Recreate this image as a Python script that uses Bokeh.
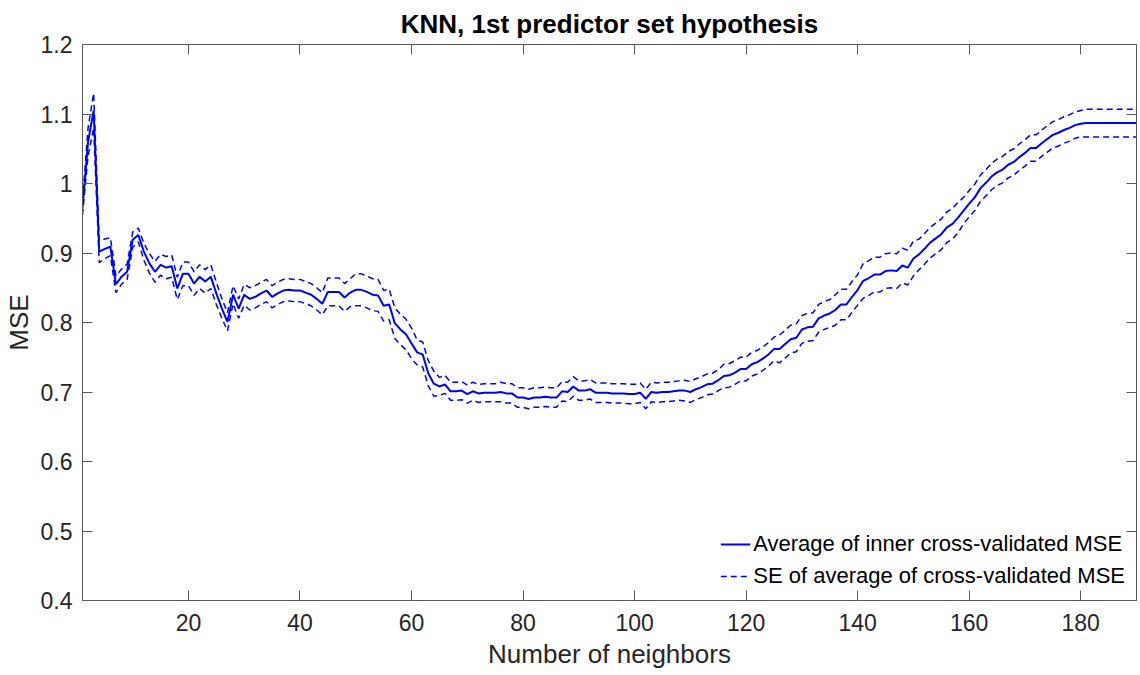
from bokeh.plotting import figure
from bokeh.models import LinearAxis, FixedTicker, CustomJSTickFormatter, Range1d, Legend, LegendItem
from bokeh.embed import file_html
from bokeh.resources import INLINE

# ---- data ----
neighbors = list(range(1, 191))

mean_mse = [
    0.965, 1.060, 1.105, 0.902, 0.906, 0.909, 0.855, 0.866, 0.873, 0.919,
    0.926, 0.902, 0.885, 0.873, 0.883, 0.879, 0.881, 0.849, 0.870, 0.870,
    0.856, 0.866, 0.859, 0.866, 0.842, 0.820, 0.801, 0.840, 0.820, 0.840,
    0.834, 0.837, 0.842, 0.846, 0.837, 0.842, 0.846, 0.847, 0.846, 0.846,
    0.843, 0.840, 0.834, 0.827, 0.844, 0.844, 0.844, 0.836, 0.843, 0.847,
    0.847, 0.844, 0.840, 0.839, 0.824, 0.826, 0.799, 0.790, 0.783, 0.770,
    0.757, 0.754, 0.727, 0.712, 0.708, 0.711, 0.701, 0.701, 0.702, 0.697,
    0.701, 0.698, 0.699, 0.699, 0.699, 0.700, 0.698, 0.698, 0.692, 0.692,
    0.690, 0.692, 0.692, 0.693, 0.692, 0.692, 0.701, 0.700, 0.708, 0.702,
    0.702, 0.704, 0.699, 0.699, 0.699, 0.698, 0.698, 0.698, 0.697, 0.697,
    0.699, 0.690, 0.700, 0.699, 0.700, 0.700, 0.701, 0.702, 0.702, 0.700,
    0.704, 0.707, 0.711, 0.712, 0.717, 0.723, 0.724, 0.728, 0.733, 0.733,
    0.740, 0.743, 0.748, 0.754, 0.762, 0.762, 0.769, 0.776, 0.778, 0.790,
    0.793, 0.794, 0.806, 0.810, 0.813, 0.818, 0.826, 0.826, 0.837, 0.847,
    0.860, 0.864, 0.869, 0.869, 0.874, 0.875, 0.874, 0.882, 0.879, 0.892,
    0.898, 0.906, 0.915, 0.921, 0.927, 0.937, 0.942, 0.951, 0.961, 0.971,
    0.980, 0.993, 1.001, 1.010, 1.016, 1.020, 1.027, 1.031, 1.038, 1.044,
    1.051, 1.051, 1.058, 1.064, 1.070, 1.073, 1.077, 1.080, 1.084, 1.086,
    1.087, 1.087, 1.087, 1.087, 1.087, 1.087, 1.087, 1.087, 1.087, 1.087,
]

se_mse = [
    0.010, 0.020, 0.025, 0.016, 0.014, 0.013, 0.012, 0.011, 0.011, 0.011,
    0.010, 0.012, 0.014, 0.015, 0.015, 0.016, 0.016, 0.016, 0.017, 0.017,
    0.017, 0.017, 0.017, 0.017, 0.016, 0.014, 0.013, 0.013, 0.014, 0.015,
    0.016, 0.016, 0.016, 0.016, 0.016, 0.016, 0.016, 0.016, 0.016, 0.016,
    0.016, 0.016, 0.016, 0.016, 0.020, 0.020, 0.020, 0.020, 0.020, 0.023,
    0.023, 0.023, 0.023, 0.023, 0.022, 0.022, 0.022, 0.022, 0.022, 0.022,
    0.018, 0.018, 0.018, 0.018, 0.013, 0.013, 0.013, 0.013, 0.013, 0.013,
    0.013, 0.013, 0.013, 0.013, 0.013, 0.014, 0.014, 0.014, 0.014, 0.014,
    0.014, 0.014, 0.014, 0.014, 0.014, 0.014, 0.014, 0.014, 0.014, 0.014,
    0.014, 0.014, 0.014, 0.014, 0.014, 0.014, 0.014, 0.014, 0.014, 0.014,
    0.014, 0.014, 0.014, 0.014, 0.014, 0.014, 0.014, 0.014, 0.015, 0.015,
    0.015, 0.015, 0.015, 0.015, 0.015, 0.017, 0.017, 0.017, 0.017, 0.017,
    0.017, 0.017, 0.017, 0.017, 0.017, 0.020, 0.020, 0.020, 0.020, 0.020,
    0.020, 0.020, 0.020, 0.020, 0.020, 0.022, 0.022, 0.022, 0.022, 0.022,
    0.025, 0.025, 0.025, 0.025, 0.025, 0.025, 0.025, 0.025, 0.025, 0.025,
    0.022, 0.022, 0.022, 0.022, 0.022, 0.022, 0.022, 0.022, 0.019, 0.019,
    0.019, 0.019, 0.019, 0.019, 0.019, 0.019, 0.019, 0.019, 0.019, 0.019,
    0.019, 0.019, 0.019, 0.019, 0.019, 0.019, 0.019, 0.019, 0.019, 0.019,
    0.020, 0.020, 0.020, 0.020, 0.020, 0.020, 0.020, 0.020, 0.020, 0.020,
]

upper_mse = [m + s for m, s in zip(mean_mse, se_mse)]
lower_mse = [m - s for m, s in zip(mean_mse, se_mse)]

x_ticks = [20, 40, 60, 80, 100, 120, 140, 160, 180]
y_ticks = [0.4, 0.5, 0.6, 0.7, 0.8, 0.9, 1.0, 1.1, 1.2]

title_text = "KNN, 1st predictor set hypothesis"
x_label = "Number of neighbors"
y_label = "MSE"
legend_mean = "Average of inner cross-validated MSE"
legend_se = "SE of average of cross-validated MSE"

FONT = "Liberation Sans"
AX_COL = "#5a5a5a"
TXT_COL = "#262626"
BLUE = "#0000FF"

p = figure(width=1140, height=675, output_backend="svg", toolbar_location=None,
           x_range=Range1d(1, 190), y_range=Range1d(0.4, 1.2),
           min_border_left=82, min_border_right=4, min_border_top=42, min_border_bottom=75)

p.title.text = title_text
p.title.align = "center"
p.title.text_font = FONT
p.title.text_font_size = "26px"
p.title.text_font_style = "bold"
p.title.text_color = "#000000"
p.title.offset = 0
p.title.standoff = 12

p.grid.visible = False
p.background_fill_color = "white"
p.border_fill_color = "white"
p.outline_line_color = AX_COL
p.outline_line_width = 1

fmt = CustomJSTickFormatter(code="var s = tick.toFixed(1); if (s.endsWith('.0')) { s = s.slice(0, -2); } return s;")

for ax in [p.xaxis[0], p.yaxis[0]]:
    ax.axis_line_color = AX_COL
    ax.major_tick_line_color = AX_COL
    ax.major_tick_in = 10
    ax.major_tick_out = 0
    ax.minor_tick_line_color = None
    ax.major_label_text_font = FONT
    ax.major_label_text_font_size = "23px"
    ax.major_label_text_color = TXT_COL
    ax.axis_label_text_font = FONT
    ax.axis_label_text_font_size = "26px"
    ax.axis_label_text_font_style = "normal"
    ax.axis_label_text_color = TXT_COL

p.xaxis[0].ticker = FixedTicker(ticks=x_ticks)
p.yaxis[0].ticker = FixedTicker(ticks=y_ticks)
p.yaxis[0].formatter = fmt
p.xaxis[0].axis_label = x_label
p.yaxis[0].axis_label = y_label
p.xaxis[0].major_label_standoff = 13
p.xaxis[0].axis_label_standoff = 5
p.yaxis[0].major_label_standoff = 10
p.yaxis[0].axis_label_standoff = 4

# box ticks on top/right (no labels)
top_ax = LinearAxis(ticker=FixedTicker(ticks=x_ticks), major_label_text_font_size="1px",
                    major_label_text_color=None,
                    axis_line_color=AX_COL, major_tick_line_color=AX_COL,
                    major_tick_in=10, major_tick_out=0, minor_tick_line_color=None,
                    major_label_standoff=0)
right_ax = LinearAxis(ticker=FixedTicker(ticks=y_ticks), major_label_text_font_size="1px",
                      major_label_text_color=None,
                      axis_line_color=AX_COL, major_tick_line_color=AX_COL,
                      major_tick_in=10, major_tick_out=0, minor_tick_line_color=None,
                      major_label_standoff=0)
p.add_layout(top_ax, "above")
p.add_layout(right_ax, "right")

r_mean = p.line(neighbors, mean_mse, line_color=BLUE, line_width=2)
r_up = p.line(neighbors, upper_mse, line_color=BLUE, line_width=1.5, line_dash="6 4")
r_lo = p.line(neighbors, lower_mse, line_color=BLUE, line_width=1.5, line_dash="6 4")

legend = Legend(items=[LegendItem(label=legend_mean, renderers=[r_mean]),
                       LegendItem(label=legend_se, renderers=[r_up])],
                location="bottom_right")
legend.border_line_color = None
legend.background_fill_color = "white"
legend.background_fill_alpha = 1.0
legend.label_text_font = FONT
legend.label_text_font_size = "22px"
legend.label_text_color = "#000000"
legend.glyph_width = 30
legend.glyph_height = 22
legend.label_standoff = 3
legend.spacing = 6
legend.padding = 3
legend.margin = 11
p.add_layout(legend)

open("out.html", "w").write(file_html(p, INLINE))
